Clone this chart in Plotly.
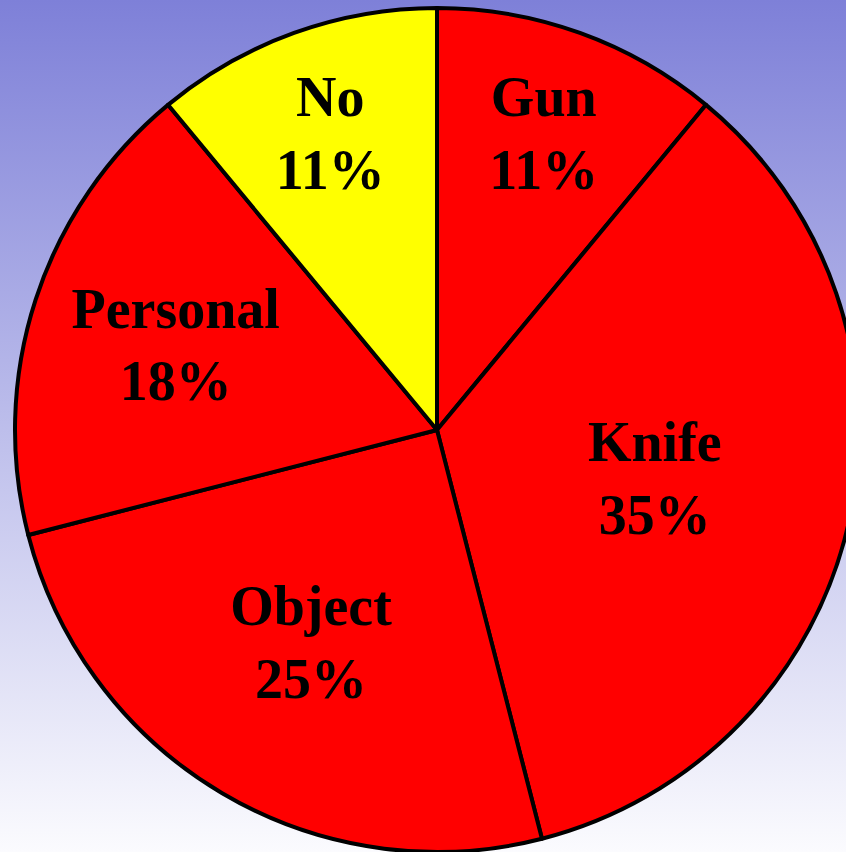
import base64
import plotly.graph_objects as go

labels = ["Gun", "Knife", "Object", "Personal", "No"]
values = [11, 35, 25, 18, 11]
colors = ["#ff0000", "#ff0000", "#ff0000", "#ff0000", "#ffff00"]

W, H = 880, 852

svg = (
    '<svg xmlns="http://www.w3.org/2000/svg" width="100" height="100" preserveAspectRatio="none">'
    '<defs><linearGradient id="g" x1="0" y1="0" x2="0" y2="1">'
    '<stop offset="0" stop-color="#7e80d8"/>'
    '<stop offset="1" stop-color="#fbfbfe"/>'
    '</linearGradient></defs>'
    '<rect width="100" height="100" fill="url(#g)"/></svg>'
)
src = "data:image/svg+xml;base64," + base64.b64encode(svg.encode()).decode()

fig = go.Figure(
    go.Pie(
        labels=labels,
        values=values,
        sort=False,
        direction="clockwise",
        rotation=0,
        marker=dict(colors=colors, line=dict(color="black", width=4)),
        texttemplate="%{label}<br>%{value}%",
        textposition="inside",
        insidetextorientation="horizontal",
        textfont=dict(family="Liberation Serif", size=56, color="black", weight="bold"),
        hoverinfo="skip",
        showlegend=False,
        domain=dict(x=[15 / W, 859 / W], y=[0, 1 - 8 / H]),
    )
)

fig.update_layout(
    width=W,
    height=H,
    margin=dict(l=0, r=0, t=0, b=0),
    paper_bgcolor="#fbfbfe",
    uniformtext=dict(minsize=56, mode="show"),
    images=[
        dict(
            source=src,
            xref="paper",
            yref="paper",
            x=0,
            y=1,
            sizex=1,
            sizey=1,
            xanchor="left",
            yanchor="top",
            sizing="stretch",
            layer="below",
        )
    ],
)

fig.write_html(
    "out.html",
    config={"displayModeBar": False},
    post_script="document.body.style.margin='0';document.body.style.overflow='hidden';",
)
